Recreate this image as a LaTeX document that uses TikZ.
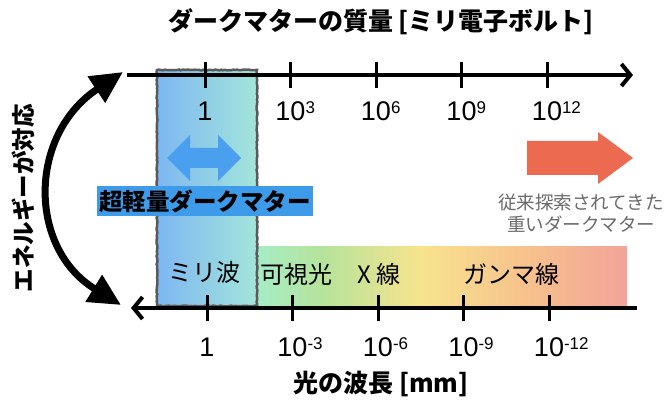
\documentclass[tikz,border=0pt]{standalone}
\usepackage{fontspec}
\setmainfont{Noto Sans CJK JP}
\newfontfamily\numfont{Liberation Sans}
\usetikzlibrary{arrows.meta,decorations.pathmorphing}
\definecolor{bandL}{HTML}{7DB7F2}
\definecolor{bandR}{HTML}{A3E5DA}
\definecolor{rb1}{HTML}{A6ECC6}
\definecolor{rb2}{HTML}{B6E39A}
\definecolor{rb3}{HTML}{F7E38E}
\definecolor{rb4}{HTML}{F6C08C}
\definecolor{rb5}{HTML}{F2A39A}
\definecolor{dblue}{HTML}{4A9FEF}
\definecolor{lblbox}{HTML}{3D9BE9}
\definecolor{redarr}{HTML}{EC6B50}
\definecolor{graytxt}{HTML}{6A6A6A}
\definecolor{bandedge}{HTML}{5A5A5A}
\pgfdeclarehorizontalshading{rainbowband}{100bp}{color(0bp)=(rb1); color(25bp)=(rb1); color(34bp)=(rb2); color(47bp)=(rb3); color(62bp)=(rb4); color(75bp)=(rb5); color(100bp)=(rb5)}
\newcommand{\supnum}[1]{\rlap{\raisebox{7pt}{\fontsize{17}{17}\selectfont #1}}}
\tikzset{
  axisline/.style={line width=4pt, black},
  tickline/.style={line width=3pt, black},
  numlbl/.style={font=\numfont\fontsize{27}{27}\selectfont, inner sep=0pt, anchor=base},
  titlelbl/.style={font=\bfseries\fontsize{25}{25}\selectfont, inner sep=0pt},
  speclbl/.style={font=\fontsize{24}{24}\selectfont, inner sep=0pt},
}
\begin{document}
\begin{tikzpicture}[x=1pt,y=-1pt]
\useasboundingbox (0,0) rectangle (667,401);
\fill[white] (0,0) rectangle (667,401);

% bands
\shade[shading=rainbowband] (257,246) rectangle (627,307);
\shade[left color=bandL, right color=bandR] (157,70) rectangle (257,306);
\draw[bandedge, line width=2.5pt, decorate, decoration={random steps, segment length=2pt, amplitude=0.5pt}] (157,70) rectangle (257,306);

% titles
\node[titlelbl] (title) at (381,22) {ダークマターの質量 [ミリ電子ボルト]};
\node[titlelbl] (btitle) at (381,384) {光の波長 [mm]};
\node[titlelbl, font=\bfseries\fontsize{23.5}{23.5}\selectfont, rotate=90] (evert) at (23,198) {エネルギーが対応};

% axes
\coordinate (taL) at (127,75);
\coordinate (taR) at (633,75);
\draw[axisline, -{Straight Barb[length=9pt,width=22pt,line width=4pt]}] (taL) -- (taR);
\coordinate (baL) at (131,308);
\coordinate (baR) at (637,308);
\draw[axisline, -{Straight Barb[length=9pt,width=22pt,line width=4pt]}] (baR) -- (baL);

\foreach \i/\x in {1/205,2/290.5,3/376,4/461.5,5/547}{
  \coordinate (tt\i) at (\x,75);
  \draw[tickline] ([yshift=13pt]tt\i) -- ([yshift=-13pt]tt\i);
}
\foreach \i/\x in {1/207,2/292.5,3/378,4/463.5,5/549}{
  \coordinate (bt\i) at (\x,308);
  \draw[tickline] ([yshift=13pt]bt\i) -- ([yshift=-13pt]bt\i);
}

% top labels
\node[numlbl] (tl1) at (205,121) {1};
\node[numlbl] (tl2) at (290.5,121) {10\supnum{3}};
\node[numlbl] (tl3) at (376,121) {10\supnum{6}};
\node[numlbl] (tl4) at (461.5,121) {10\supnum{9}};
\node[numlbl] (tl5) at (547,121) {10\supnum{12}};
% bottom labels
\node[numlbl] (bl1) at (207,356) {1};
\node[numlbl] (bl2) at (292.5,356) {10\supnum{-3}};
\node[numlbl] (bl3) at (378,356) {10\supnum{-6}};
\node[numlbl] (bl4) at (463.5,356) {10\supnum{-9}};
\node[numlbl] (bl5) at (549,356) {10\supnum{-12}};

% spectrum labels
\node[speclbl] (mili) at (204.5,272) {ミリ波};
\node[speclbl] (vis) at (296.5,274) {可視光};
\node[speclbl] (xray) at (379,274) {X 線};
\node[speclbl] (gamma) at (511,274) {ガンマ線};

% blue double arrow
\coordinate (dac) at (204,158);
\fill[dblue] ([xshift=-37pt]dac) -- ([xshift=-14pt,yshift=23pt]dac) -- ([xshift=-14pt,yshift=10pt]dac)
  -- ([xshift=14pt,yshift=10pt]dac) -- ([xshift=14pt,yshift=23pt]dac) -- ([xshift=37pt]dac)
  -- ([xshift=14pt,yshift=-23pt]dac) -- ([xshift=14pt,yshift=-10pt]dac) -- ([xshift=-14pt,yshift=-10pt]dac)
  -- ([xshift=-14pt,yshift=-23pt]dac) -- cycle;

% label box
\node[fill=lblbox, font=\bfseries\fontsize{23.5}{23.5}\selectfont, inner xsep=2pt, minimum height=29pt, anchor=west] (ultra) at (97,201) {超軽量ダークマター};

% red arrow
\coordinate (rac) at (580,158);
\fill[redarr] ([xshift=-53pt,yshift=17pt]rac) -- ([xshift=18pt,yshift=17pt]rac) -- ([xshift=18pt,yshift=26pt]rac)
  -- ([xshift=53pt]rac) -- ([xshift=18pt,yshift=-26pt]rac) -- ([xshift=18pt,yshift=-17pt]rac)
  -- ([xshift=-53pt,yshift=-17pt]rac) -- cycle;
\node[font=\fontsize{18.5}{22}\selectfont, text=graytxt, align=center, inner sep=0pt] (heavy) at (581,213) {従来探索されてきた\\重いダークマター};

% curved arrow
\coordinate (ctop) at (123,72);
\coordinate (cbot) at (121,305);
\draw[line width=7pt, {Triangle[length=32pt,width=30pt]}-{Triangle[length=32pt,width=30pt]}] (cbot) .. controls (28,248) and (28,135) .. (ctop);
\end{tikzpicture}
\end{document}
